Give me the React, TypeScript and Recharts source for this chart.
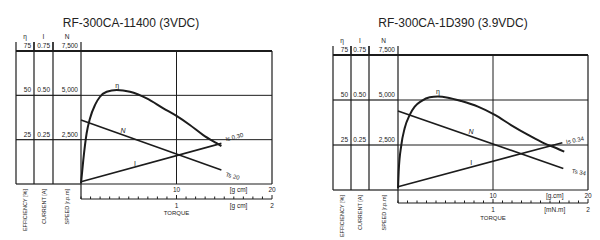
import React from 'react';
import { LineChart, Line, XAxis, YAxis, ReferenceLine, ReferenceDot, Label } from 'recharts';

const INK = '#1c1c1c';
const FONT = '"Liberation Sans", Arial, sans-serif';

// RF-300CA-11400 (3VDC) - torque in g·cm
const leftEtaTorque = [0, 0.24, 0.59, 0.94, 1.47, 1.99, 2.69, 3.74, 5.13, 6.88, 8.62, 10, 11.4, 12.8, 14.2, 14.7];
const leftEta = [0.4, 13.5, 28.6, 37, 44.6, 49.2, 52, 53, 52, 48.3, 42.7, 38.4, 33.3, 27.6, 23, 21.4];
const leftSpeedTorque = [0, 14.7];
const leftSpeed = [3610, 790];
const leftCurrentTorque = [0, 14.7];
const leftCurrent = [0.013, 0.229];

// RF-300CA-1D390 (3.9VDC)
const rightEtaTorque = [0, 0.07, 0.35, 0.7, 1.23, 1.76, 2.46, 3.34, 4.21, 5.26, 6.67, 8.42, 10.2, 11.9, 13.7, 15.4, 16.7, 17.5];
const rightEta = [0.9, 10.2, 25, 34.3, 41.7, 46.3, 49.4, 51.5, 51.9, 51.3, 49.4, 46.3, 41.7, 36.1, 30.6, 25.9, 23.2, 21.3];
const rightSpeedTorque = [0, 17.4];
const rightSpeed = [4390, 1200];
const rightCurrentTorque = [0, 17.3];
const rightCurrent = [0.0185, 0.263];

// axes
const etaTicks = [0, 25, 50, 75];
const currentTicks = [0, 0.25, 0.5, 0.75];
const speedTicks = [0, 2500, 5000, 7500];
const gcmTicks = [10, 16.5, 20];
const GCM_UNIT_AT = 16.5;
const mnmTicks = [0, 0.1, 0.2, 0.3, 0.4, 0.5, 0.6, 0.7, 0.8, 0.9, 1, 1.1, 1.2, 1.3, 1.4, 1.5, 1.6, 1.65, 1.7, 1.8, 1.9, 2];
const MNM_UNIT_AT = 1.65;
const mnmLabelled = [1, 2];

// curve annotations (torque, efficiency-scale position)
type Note = { x: number; y: number; text: string; angle?: number; anchor?: 'start' | 'middle'; italic?: boolean; size?: number };
const leftNotes: Note[] = [
  { x: 3.8, y: 55.5, text: 'η' },
  { x: 4.4, y: 29.9, text: 'N', italic: true },
  { x: 5.65, y: 11.3, text: 'I' },
  { x: 15.15, y: 25.2, text: 'Is 0.30', angle: -15, anchor: 'start', size: 6 },
  { x: 15.15, y: 5.5, text: 'Ts 20', angle: 15, anchor: 'start', size: 6 },
];
const rightNotes: Note[] = [
  { x: 4.2, y: 54.6, text: 'η' },
  { x: 7.7, y: 32.4, text: 'N', italic: true },
  { x: 7.7, y: 15.4, text: 'I' },
  { x: 17.7, y: 26.7, text: 'Is 0.34', angle: -12, anchor: 'start', size: 6 },
  { x: 18.3, y: 10.6, text: 'Ts 34', angle: 10, anchor: 'start', size: 6 },
];

const pairs = (t: number[], v: number[]) => t.map((x, i) => ({ t: x, v: v[i] }));

const makeColumnTick = (colW: number, head: string, title: string, top: number, fmt: (v: number) => string) =>
  (props: any) => {
    const { x, y, payload } = props;
    const v = payload.value;
    const left = x - colW;
    return (
      <g>
        <line x1={left} x2={x} y1={y} y2={y} stroke={INK} strokeWidth={v === top ? 2 : 1.2} />
        {v !== 0 && (
          <text x={x - 3} y={y - 3} textAnchor="end" fontSize={6.5} fill={INK} fontFamily={FONT}>{fmt(v)}</text>
        )}
        {v === top && (
          <>
            <line x1={left} x2={left} y1={y - 9} y2={y} stroke={INK} strokeWidth={1.2} />
            <line x1={x} x2={x} y1={y - 9} y2={y} stroke={INK} strokeWidth={1.2} />
            <text x={left + colW / 2} y={y - 12} textAnchor="middle" fontSize={6.5} fill={INK} fontFamily={FONT}>{head}</text>
          </>
        )}
        {v === 0 && (
          <text transform={`translate(${left + colW / 2 + 2}, ${y + 5}) rotate(-90)`} textAnchor="end"
            fontSize={5.5} fill={INK} fontFamily={FONT}>{title}</text>
        )}
      </g>
    );
  };

const makeGcmTick = (unit: string) => (props: any) => {
  const { x, y, payload } = props;
  const v = payload.value;
  return (
    <text x={x} y={y + 8} textAnchor="middle" fontSize={6.5} fill={INK} fontFamily={FONT}>
      {v === GCM_UNIT_AT ? unit : String(v)}
    </text>
  );
};

const makeMnmTick = (unit: string, gapUp: number) => (props: any) => {
  const { x, y, payload } = props;
  const v = payload.value;
  if (v === MNM_UNIT_AT) {
    return <text x={x} y={y + 9} textAnchor="middle" fontSize={6.5} fill={INK} fontFamily={FONT}>{unit}</text>;
  }
  const big = mnmLabelled.includes(v);
  return (
    <g>
      <line x1={x} x2={x} y1={y - (big ? 4 : 2.5)} y2={y} stroke={INK} strokeWidth={1} />
      {v === 0 && <line x1={x} x2={x} y1={y - gapUp} y2={y} stroke={INK} strokeWidth={1.2} />}
      {big && <text x={x} y={y + 9} textAnchor="middle" fontSize={6.5} fill={INK} fontFamily={FONT}>{v}</text>}
    </g>
  );
};

type PanelProps = {
  etaTorque: number[]; eta: number[];
  speedTorque: number[]; speed: number[];
  currentTorque: number[]; current: number[];
  notes: Note[];
  gcmUnit: string; mnmUnit: string;
  margin: { top: number; right: number; bottom: number; left: number };
  cols: [number, number, number, number];
  gHeight: number; mHeight: number;
};

// y axis ids: recharts stacks left axes by id order, first id next to the plot
function MotorPanel(p: PanelProps) {
  const [edgeW, etaW, curW, spdW] = p.cols;
  const etaData = pairs(p.etaTorque, p.eta);
  return (
    <LineChart width={300} height={240} margin={p.margin} data={etaData}>
      <XAxis xAxisId="g" dataKey="t" type="number" domain={[0, 20]} ticks={gcmTicks} interval={0}
        height={p.gHeight} axisLine={false} tickLine={false} tickSize={0} tickMargin={0} tick={makeGcmTick(p.gcmUnit)} />
      <XAxis xAxisId="m" dataKey="t" type="number" domain={[0, 2]} ticks={mnmTicks} interval={0} allowDataOverflow
        height={p.mHeight} axisLine={{ stroke: INK, strokeWidth: 1.2 }} tickLine={false} tickSize={0} tickMargin={0}
        tick={makeMnmTick(p.mnmUnit, p.gHeight)}>
        <Label value="TORQUE" position="insideBottom" offset={0} fontSize={6} fill={INK} fontFamily={FONT} />
      </XAxis>
      <YAxis yAxisId="a_spd" type="number" domain={[0, 7500]} ticks={speedTicks} interval={0} width={spdW}
        axisLine={{ stroke: INK, strokeWidth: 1.2 }} tickLine={false} tickSize={0} tickMargin={0}
        tick={makeColumnTick(spdW, 'N', 'SPEED [r.p.m]', 7500, (v) => v.toLocaleString('en-US'))} />
      <YAxis yAxisId="b_cur" type="number" domain={[0, 0.75]} ticks={currentTicks} interval={0} width={curW}
        axisLine={{ stroke: INK, strokeWidth: 1.2 }} tickLine={false} tickSize={0} tickMargin={0}
        tick={makeColumnTick(curW, 'I', 'CURRENT [A]', 0.75, (v) => v.toFixed(2))} />
      <YAxis yAxisId="c_eta" type="number" domain={[0, 75]} ticks={etaTicks} interval={0} width={etaW}
        axisLine={{ stroke: INK, strokeWidth: 1.2 }} tickLine={false} tickSize={0} tickMargin={0}
        tick={makeColumnTick(etaW, 'η', 'EFFICIENCY [%]', 75, (v) => String(v))} />
      <YAxis yAxisId="d_edge" type="number" domain={[0, 1]} allowDataOverflow width={edgeW}
        axisLine={{ stroke: INK, strokeWidth: 1.2 }} tickLine={false} tick={false} />

      <ReferenceLine xAxisId="g" yAxisId="c_eta" y={0} stroke={INK} strokeWidth={1.2} />
      <ReferenceLine xAxisId="g" yAxisId="c_eta" y={25} stroke={INK} strokeWidth={1} />
      <ReferenceLine xAxisId="g" yAxisId="c_eta" y={50} stroke={INK} strokeWidth={1} />
      <ReferenceLine xAxisId="g" yAxisId="c_eta" y={75} stroke={INK} strokeWidth={2} />
      <ReferenceLine xAxisId="g" yAxisId="c_eta" x={10} stroke={INK} strokeWidth={1} />
      <ReferenceLine xAxisId="g" yAxisId="c_eta" x={20} stroke={INK} strokeWidth={1.2} />

      <Line xAxisId="g" yAxisId="c_eta" data={etaData} dataKey="v" type="monotone"
        stroke={INK} strokeWidth={2} dot={false} isAnimationActive={false} />
      <Line xAxisId="g" yAxisId="a_spd" data={pairs(p.speedTorque, p.speed)} dataKey="v" type="linear"
        stroke={INK} strokeWidth={1.6} dot={false} isAnimationActive={false} />
      <Line xAxisId="g" yAxisId="b_cur" data={pairs(p.currentTorque, p.current)} dataKey="v" type="linear"
        stroke={INK} strokeWidth={1.6} dot={false} isAnimationActive={false} />

      {p.notes.map((n) => (
        <ReferenceDot key={n.text} xAxisId="g" yAxisId="c_eta" x={n.x} y={n.y} r={1}
          shape={(d: any) => (
            <text x={d.cx} y={d.cy} dy="0.35em" textAnchor={n.anchor ?? 'middle'}
              transform={n.angle ? `rotate(${n.angle}, ${d.cx}, ${d.cy})` : undefined}
              fontSize={n.size ?? 7} fontStyle={n.italic ? 'italic' : 'normal'} fill={INK} fontFamily={FONT}>
              {n.text}
            </text>
          )} />
      ))}
    </LineChart>
  );
}

const titleStyle: React.CSSProperties = {
  position: 'absolute', top: 16, width: 200, textAlign: 'center',
  fontSize: 12, lineHeight: '14px', color: '#222', fontFamily: FONT,
};

export default function App() {
  return (
    <div style={{ position: 'absolute', left: 0, top: 0, width: 600, height: 240, background: '#fff', overflow: 'hidden' }}>
      <div style={{ position: 'absolute', left: 0, top: 0 }}>
        <MotorPanel etaTorque={leftEtaTorque} eta={leftEta}
          speedTorque={leftSpeedTorque} speed={leftSpeed}
          currentTorque={leftCurrentTorque} current={leftCurrent}
          notes={leftNotes} gcmUnit="[g cm]" mnmUnit="[g cm]"
          margin={{ top: 51, right: 28, bottom: 25, left: 15 }} cols={[1, 18, 19, 28]}
          gHeight={15} mHeight={16} />
      </div>
      <div style={{ position: 'absolute', left: 300, top: 0 }}>
        <MotorPanel etaTorque={rightEtaTorque} eta={rightEta}
          speedTorque={rightSpeedTorque} speed={rightSpeed}
          currentTorque={rightCurrentTorque} current={rightCurrent}
          notes={rightNotes} gcmUnit="[g.cm]" mnmUnit="[mN.m]"
          margin={{ top: 55, right: 12, bottom: 20, left: 32 }} cols={[1, 18, 18, 29]}
          gHeight={13} mHeight={17} />
      </div>
      <div style={{ ...titleStyle, left: 31 }}>RF-300CA-11400 (3VDC)</div>
      <div style={{ ...titleStyle, left: 353 }}>RF-300CA-1D390 (3.9VDC)</div>
    </div>
  );
}
